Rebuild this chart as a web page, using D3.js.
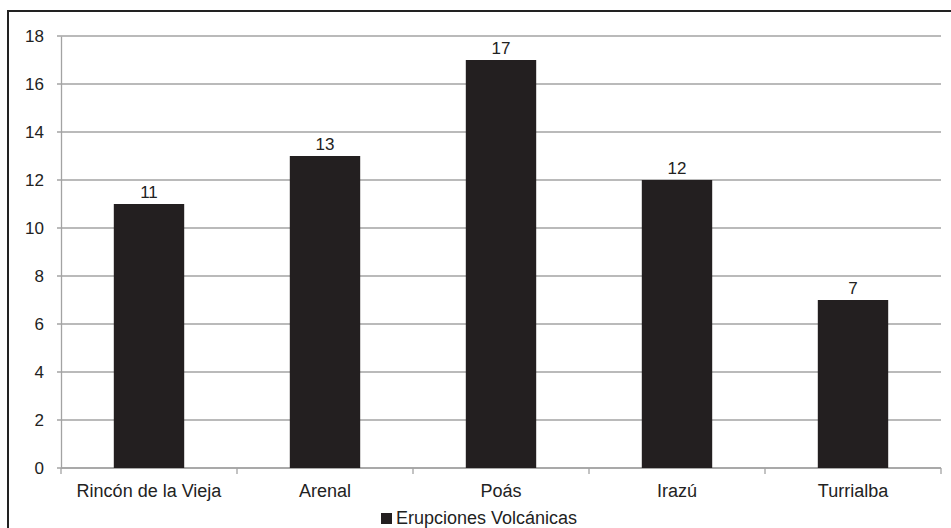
<!DOCTYPE html>
<html>
<head>
<meta charset="utf-8">
<script src="https://cdn.jsdelivr.net/npm/d3@7"></script>
<style>
    body { margin: 0; background: #fff; }
    svg { display: block; font-family: "Liberation Sans", Arial, sans-serif; }
</style>
</head>
<body>
<div id="chart"></div>
<script>
// Data
const volcanoes = ["Rincón de la Vieja", "Arenal", "Poás", "Irazú", "Turrialba"];
const eruptions = [11, 13, 17, 12, 7];
const yTicks = [0, 2, 4, 6, 8, 10, 12, 14, 16, 18];
const seriesName = "Erupciones Volcánicas";

const WIDTH = 951, HEIGHT = 528;
const PLOT = { LEFT: 61, RIGHT: 941, TOP: 36, BOTTOM: 468 };
const BAR_COLOR = "#231f20";
const GRID_COLOR = "#a3a3a3";
const TEXT_COLOR = "#222";

const svg = d3.select("#chart").append("svg")
    .attr("width", WIDTH)
    .attr("height", HEIGHT);

// frame (only top and left edges are visible in the reference)
svg.append("line")
    .attr("x1", 7).attr("x2", WIDTH).attr("y1", 11).attr("y2", 11)
    .attr("stroke", "#222").attr("stroke-width", 2);
svg.append("line")
    .attr("x1", 8).attr("x2", 8).attr("y1", 10).attr("y2", HEIGHT)
    .attr("stroke", "#222").attr("stroke-width", 2);

const x = d3.scaleBand()
    .domain(volcanoes)
    .range([PLOT.LEFT, PLOT.RIGHT])
    .padding(0);

const y = d3.scaleLinear()
    .domain([0, 18])
    .range([PLOT.BOTTOM, PLOT.TOP]);

// horizontal gridlines
svg.append("g")
    .selectAll("line")
    .data(yTicks)
    .join("line")
    .attr("x1", PLOT.LEFT - 4)
    .attr("x2", PLOT.RIGHT)
    .attr("y1", d => y(d))
    .attr("y2", d => y(d))
    .attr("stroke", GRID_COLOR)
    .attr("stroke-width", 1.3);

// y axis
const yAxis = svg.append("g")
    .attr("transform", `translate(${PLOT.LEFT},0)`)
    .call(d3.axisLeft(y).tickValues(yTicks).tickSize(0).tickPadding(17));
yAxis.select(".domain").attr("stroke", GRID_COLOR).attr("stroke-width", 1.3);
yAxis.selectAll("text")
    .attr("fill", TEXT_COLOR)
    .style("font-size", "17px");

// x axis
const boundaries = volcanoes.map(d => x(d)).concat([PLOT.RIGHT]);
svg.append("line")
    .attr("x1", PLOT.LEFT).attr("x2", PLOT.RIGHT)
    .attr("y1", y(0)).attr("y2", y(0))
    .attr("stroke", GRID_COLOR).attr("stroke-width", 1.3);
svg.append("g")
    .selectAll("line")
    .data(boundaries)
    .join("line")
    .attr("x1", d => d).attr("x2", d => d)
    .attr("y1", y(0)).attr("y2", y(0) + 6)
    .attr("stroke", GRID_COLOR).attr("stroke-width", 1.3);

svg.append("g")
    .selectAll("text")
    .data(volcanoes)
    .join("text")
    .attr("x", d => x(d) + x.bandwidth() / 2)
    .attr("y", 497)
    .attr("text-anchor", "middle")
    .attr("fill", TEXT_COLOR)
    .style("font-size", "18px")
    .text(d => d);

// bars
const barWidth = x.bandwidth() * 0.4;
svg.append("g")
    .selectAll("rect")
    .data(volcanoes)
    .join("rect")
    .attr("x", (d, i) => x(d) + (x.bandwidth() - barWidth) / 2)
    .attr("y", (d, i) => y(eruptions[i]))
    .attr("width", barWidth)
    .attr("height", (d, i) => y(0) - y(eruptions[i]))
    .attr("fill", BAR_COLOR);

// value labels
svg.append("g")
    .selectAll("text")
    .data(volcanoes)
    .join("text")
    .attr("x", d => x(d) + x.bandwidth() / 2)
    .attr("y", (d, i) => y(eruptions[i]) - 6)
    .attr("text-anchor", "middle")
    .attr("fill", TEXT_COLOR)
    .style("font-size", "17px")
    .text((d, i) => eruptions[i]);

// legend
const legend = svg.append("g").attr("transform", "translate(381,513)");
legend.append("rect")
    .attr("width", 11).attr("height", 11)
    .attr("fill", BAR_COLOR);
legend.append("text")
    .attr("x", 15)
    .attr("y", 11)
    .attr("fill", TEXT_COLOR)
    .style("font-size", "18px")
    .text(seriesName);
</script>
</body>
</html>
